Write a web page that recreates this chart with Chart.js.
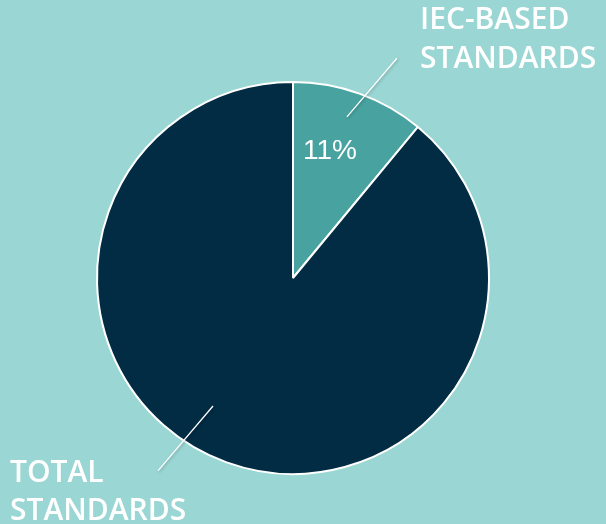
<!DOCTYPE html>
<html>
<head>
<meta charset="utf-8">
<script src="https://cdn.jsdelivr.net/npm/chart.js@4.4.0/dist/chart.umd.min.js"></script>
<style>
  html, body { margin: 0; padding: 0; background: #9ad6d4; }
  #wrap { width: 606px; height: 524px; position: relative; }
</style>
</head>
<body>
<div id="wrap"><canvas id="pieChart"></canvas></div>
<script>
var categories = ['IEC-BASED STANDARDS', 'TOTAL STANDARDS'];
var shares = [11, 89];
var sliceColors = ['#48a29f', '#022b44'];

// labels + leader lines, drawn around the arcs
var calloutPlugin = {
    id: 'callouts',
    afterDatasetsDraw: function (chart) {
        var ctx = chart.ctx;
        var arcs = chart.getDatasetMeta(0).data;
        var cx = arcs[0].x, cy = arcs[0].y, R = arcs[0].outerRadius;

        function pt(frac, deg) {
            var a = deg * Math.PI / 180;
            return [cx + R * frac * Math.cos(a), cy + R * frac * Math.sin(a)];
        }
        function line(p1, p2) {
            ctx.save();
            ctx.strokeStyle = '#ffffff';
            ctx.lineWidth = 1.3;
            ctx.shadowColor = 'rgba(0,0,0,0.25)';
            ctx.shadowBlur = 3;
            ctx.shadowOffsetX = 1;
            ctx.shadowOffsetY = 1;
            ctx.beginPath();
            ctx.moveTo(p1[0], p1[1]);
            ctx.lineTo(p2[0], p2[1]);
            ctx.stroke();
            ctx.restore();
        }

        line(pt(0.867, -71.5), pt(1.24, -64.7));
        line(pt(0.77, 122), pt(1.2, 125));

        ctx.save();
        ctx.fillStyle = '#ffffff';
        ctx.textBaseline = 'alphabetic';
        ctx.textAlign = 'left';
        ctx.font = '600 30px "Open Sans"';
        var top = categories[0].split(' ');
        ctx.fillText(top[0], 420, 29);
        ctx.fillText(top[1], 420, 68);
        var bot = categories[1].split(' ');
        ctx.fillText(bot[0], 10, 482);
        ctx.fillText(bot[1], 10, 520);

        // percentage inside the small slice
        ctx.font = '28px "Liberation Sans", Arial, sans-serif';
        ctx.textAlign = 'center';
        ctx.textBaseline = 'middle';
        ctx.fillText(shares[0] + '%', 330, 151);
        ctx.restore();
    }
};

new Chart(document.getElementById('pieChart'), {
    type: 'pie',
    data: {
        labels: categories,
        datasets: [{
            data: shares,
            backgroundColor: sliceColors,
            borderColor: '#ffffff',
            borderWidth: 2
        }]
    },
    options: {
        responsive: true,
        maintainAspectRatio: false,
        animation: false,
        layout: { padding: { left: 96, right: 116, top: 81, bottom: 49 } },
        plugins: {
            legend: { display: false },
            tooltip: { enabled: false }
        }
    },
    plugins: [calloutPlugin]
});
</script>
</body>
</html>
